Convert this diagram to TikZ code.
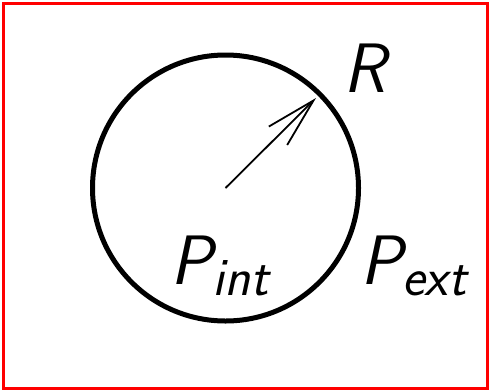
\documentclass[tikz,border=0pt]{standalone}
\usetikzlibrary{arrows.meta}
\newcommand{\biglab}[2]{{\fontsize{70}{74}\selectfont\sffamily\slshape #1}\raisebox{-11pt}{\fontsize{54}{58}\selectfont\sffamily\slshape #2}}
\tikzset{
  frame/.style={draw=red, line width=3pt},
  ring/.style={draw=black, line width=5pt},
  radius arrow/.style={line width=1.8pt, -{Straight Barb[length=50pt, width=26pt, line width=1.8pt]}},
  lab/.style={inner sep=0pt, anchor=base west}
}
\begin{document}
\begin{tikzpicture}[x=1pt, y=-1pt]
\useasboundingbox (0,0) rectangle (489,391);
\draw[frame] (3.5,3.5) rectangle (487,388.5);
\coordinate (c) at (225.5,188);
\draw[ring] (c) circle[radius=133];
\coordinate (tip) at (316,98);
\draw[radius arrow] (c) -- (tip);
\node[lab] (R) at (343,92) {\biglab{R}{}};
\node[lab] (Pint) at (170,284) {\biglab{P}{int}};
\node[lab] (Pext) at (360,284) {\biglab{P}{ext}};
\end{tikzpicture}
\end{document}
